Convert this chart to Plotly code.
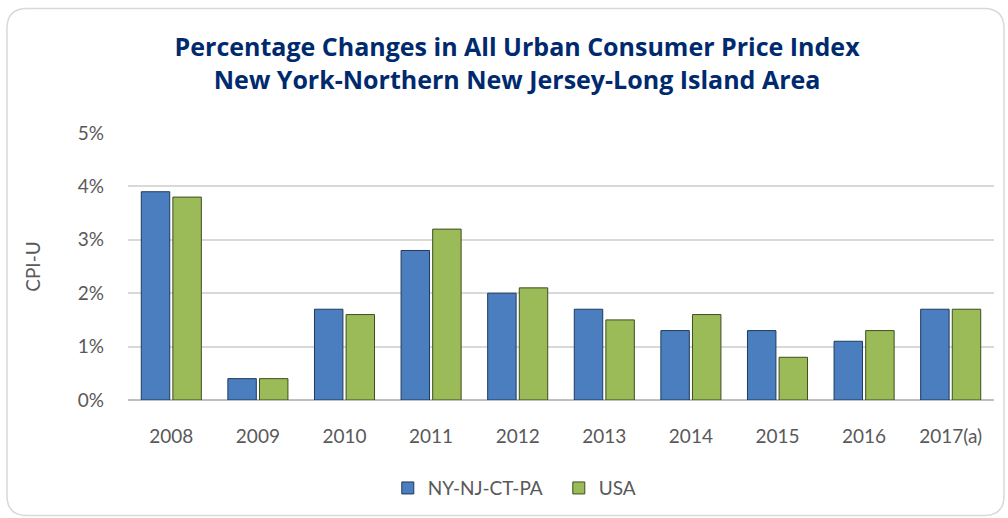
import plotly.graph_objects as go

categories = ["2008", "2009", "2010", "2011", "2012", "2013", "2014", "2015", "2016", "2017(a)"]
ny_values = [3.9, 0.4, 1.7, 2.8, 2.0, 1.7, 1.3, 1.3, 1.1, 1.7]
usa_values = [3.8, 0.4, 1.6, 3.2, 2.1, 1.5, 1.6, 0.8, 1.3, 1.7]
y_ticks = [0, 1, 2, 3, 4, 5]
y_tick_labels = ["0%", "1%", "2%", "3%", "4%", "5%"]

W, H = 1008, 518
L, R, T, B = 128, 14, 133, 117
pw, ph = W - L - R, H - T - B

def px(x):
    return (x - L) / pw

def py(y):
    return (H - B - y) / ph

font_family = "Lato, 'Open Sans', sans-serif"

fig = go.Figure()
fig.add_trace(go.Bar(
    x=categories, y=ny_values, name="NY-NJ-CT-PA",
    marker=dict(color="#4A7EBF", line=dict(color="#1F3A5F", width=1)),
))
fig.add_trace(go.Bar(
    x=categories, y=usa_values, name="USA",
    marker=dict(color="#9BBB59", line=dict(color="#3E4F1E", width=1)),
))

# rounded border of chart area
x0, x1, y0, y1, r = 7, 1004, 8, 517, 20
path = (
    f"M {px(x0+r)},{py(y0)} L {px(x1-r)},{py(y0)} "
    f"Q {px(x1)},{py(y0)} {px(x1)},{py(y0+r)} "
    f"L {px(x1)},{py(y1-r)} Q {px(x1)},{py(y1)} {px(x1-r)},{py(y1)} "
    f"L {px(x0+r)},{py(y1)} Q {px(x0)},{py(y1)} {px(x0)},{py(y1-r)} "
    f"L {px(x0)},{py(y0+r)} Q {px(x0)},{py(y0)} {px(x0+r)},{py(y0)} Z"
)

fig.update_layout(
    width=W, height=H,
    margin=dict(l=L, r=R, t=T, b=B),
    paper_bgcolor="white", plot_bgcolor="white",
    barmode="group", bargap=0.27, bargroupgap=0.1,
    title=dict(
        text="Percentage Changes in All Urban Consumer Price Index<br>New York-Northern New Jersey-Long Island Area",
        x=0.513, xanchor="center", y=0.891, yanchor="middle",
        font=dict(family="'Open Sans', sans-serif", size=25, color="#002A6E", weight="bold"),
    ),
    font=dict(family=font_family, size=19, color="#595959"),
    xaxis=dict(
        showgrid=False, showline=False, ticks="", ticklabelstandoff=23,
        tickfont=dict(size=19, color="#595959"),
    ),
    yaxis=dict(
        range=[0, 5], tickvals=y_ticks, ticktext=y_tick_labels,
        showgrid=True, gridcolor="#D9D9D9", gridwidth=1.5,
        zeroline=True, zerolinecolor="#BFBFBF", zerolinewidth=2,
        showline=False, ticks="", ticklabelstandoff=23,
        tickfont=dict(size=19, color="#595959"),
        title=dict(text="CPI-U", font=dict(size=19, color="#595959"), standoff=32),
    ),
    legend=dict(
        orientation="h", x=0.30, xanchor="left", y=-0.325, yanchor="middle",
        font=dict(size=19, color="#595959"), itemwidth=30, entrywidth=126,
    ),
    shapes=[dict(type="path", path=path, xref="paper", yref="paper",
                 line=dict(color="#D9D9D9", width=1.5), layer="below")],
)

fig.write_html("out.html", config={"displayModeBar": False},
               post_script="document.body.style.margin='0';")
